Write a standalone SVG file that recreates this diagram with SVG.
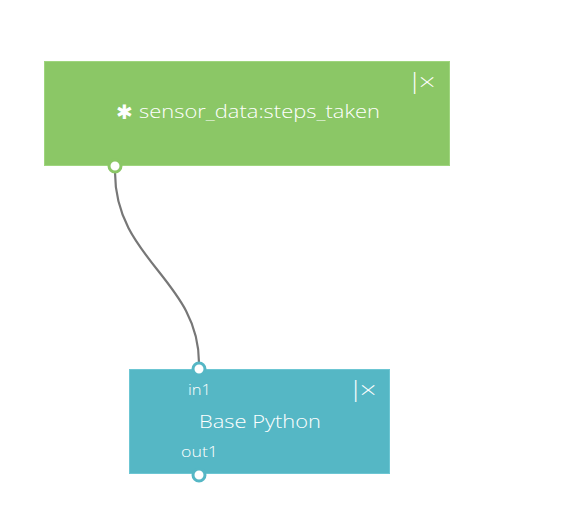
<svg xmlns="http://www.w3.org/2000/svg" width="577" height="531" viewBox="0 0 577 531">
<style>
.t{font-family:"Open Sans",Lato,sans-serif;fill:#fff;font-weight:300}
.close{font-family:Lato,sans-serif;fill:#fff;font-size:24px;font-weight:300}
.port{fill:#fff;stroke-width:3}
</style>
<rect width="577" height="531" fill="#fff"/>
<g id="connectors">
<path d="M115,172 C115,260 199,280 199,363" fill="none" stroke="#777" stroke-width="2.2"/>
</g>
<g id="node-sensor">
<rect x="44.5" y="61.5" width="405" height="104" fill="#8bc766" stroke="#9fd57e" stroke-width="1"/>
<text class="close" x="411" y="90" textLength="25" lengthAdjust="spacingAndGlyphs">|×</text>
<text class="t" x="116" y="119" font-size="20" font-weight="700">✱</text>
<text class="t" x="139" y="118" font-size="19" textLength="241" lengthAdjust="spacingAndGlyphs">sensor_data:steps_taken</text>
<circle class="port" cx="115" cy="166" r="6" stroke="#8bc766"/>
</g>
<g id="node-python">
<rect x="129.5" y="369.5" width="260" height="104" fill="#55b7c5" stroke="#6cc6d3" stroke-width="1"/>
<text class="close" x="352" y="398" textLength="25" lengthAdjust="spacingAndGlyphs">|×</text>
<text class="t" x="188" y="395" font-size="14" textLength="23" lengthAdjust="spacingAndGlyphs">in1</text>
<text class="t" x="199" y="428" font-size="19" textLength="122" lengthAdjust="spacingAndGlyphs">Base Python</text>
<text class="t" x="181" y="457" font-size="14" textLength="37" lengthAdjust="spacingAndGlyphs">out1</text>
<circle class="port" cx="199" cy="369" r="6" stroke="#55b7c5"/>
<circle class="port" cx="199" cy="475" r="6" stroke="#55b7c5"/>
</g>
</svg>
